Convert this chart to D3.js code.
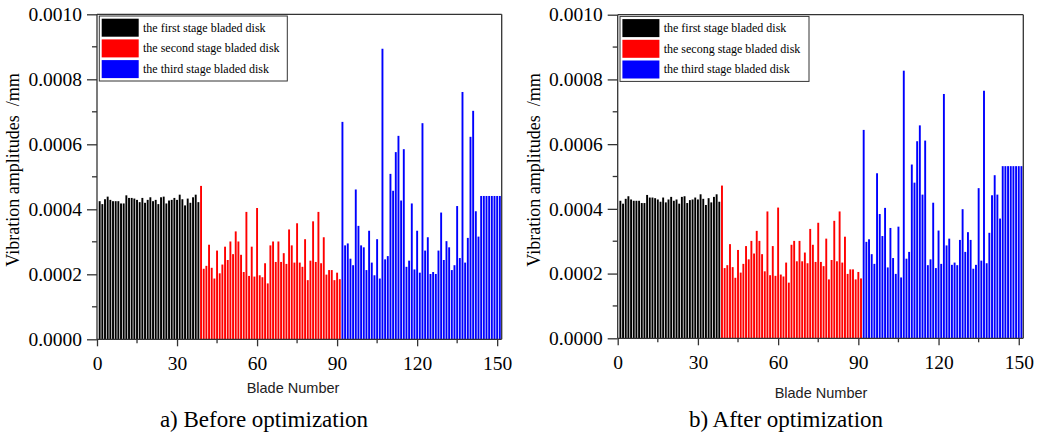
<!DOCTYPE html>
<html>
<head>
<meta charset="utf-8">
<script src="https://cdn.jsdelivr.net/npm/d3@7"></script>
<style>
  body { margin: 0; background: #fff; }
  svg { display: block; }
</style>
</head>
<body>
<svg id="chart" width="1042" height="434"></svg>
<script>
// Vibration amplitude (mm) per blade, blades numbered consecutively across stages
const firstStage = [
  0.000425, 0.000416, 0.000431, 0.000439, 0.000429, 0.000425, 0.000425, 0.000425, 0.000418, 0.000418,
  0.000443, 0.000435, 0.000435, 0.000433, 0.000429, 0.000422, 0.000435, 0.000420, 0.000429, 0.000437,
  0.000425, 0.000429, 0.000416, 0.000437, 0.000439, 0.000418, 0.000427, 0.000429, 0.000435, 0.000429,
  0.000445, 0.000431, 0.000412, 0.000433, 0.000420, 0.000437, 0.000445, 0.000422
];
const secondStage = [
  0.000472, 0.000217, 0.000226, 0.000291, 0.000220, 0.000187, 0.000273, 0.000203, 0.000230, 0.000285,
  0.000244, 0.000301, 0.000262, 0.000332, 0.000301, 0.000260, 0.000207, 0.000392, 0.000195, 0.000285,
  0.000193, 0.000404, 0.000197, 0.000191, 0.000234, 0.000172, 0.000289, 0.000301, 0.000238, 0.000301,
  0.000238, 0.000265, 0.000232, 0.000338, 0.000289, 0.000236, 0.000357, 0.000236, 0.000223, 0.000308,
  0.000182, 0.000242, 0.000363, 0.000238, 0.000392, 0.000234, 0.000314, 0.000199, 0.000213, 0.000213,
  0.000182, 0.000205, 0.000185
];
const thirdStageBefore = [
  0.000669, 0.000289, 0.000295, 0.000248, 0.000228, 0.000461, 0.000349, 0.000289, 0.000283, 0.000213,
  0.000334, 0.000236, 0.000197, 0.000308, 0.000187, 0.000894, 0.000246, 0.000256, 0.000509, 0.000457,
  0.000576, 0.000626, 0.000427, 0.000585, 0.000223, 0.000242, 0.000418, 0.000215, 0.000334, 0.000205,
  0.000665, 0.000273, 0.000314, 0.000201, 0.000207, 0.000201, 0.000273, 0.000390, 0.000244, 0.000302,
  0.000283, 0.000213, 0.000228, 0.000410, 0.000250, 0.000761, 0.000236, 0.000312, 0.000623, 0.000703,
  0.000394, 0.000316, 0.000441, 0.000441, 0.000441, 0.000441, 0.000441, 0.000441, 0.000441, 0.000441
];
const thirdStageAfter = [
  0.000644, 0.000298, 0.000306, 0.000260, 0.000230, 0.000510, 0.000384, 0.000316, 0.000403, 0.000219,
  0.000341, 0.000248, 0.000199, 0.000345, 0.000188, 0.000827, 0.000246, 0.000267, 0.000537, 0.000481,
  0.000609, 0.000658, 0.000444, 0.000611, 0.000226, 0.000244, 0.000419, 0.000217, 0.000333, 0.000230,
  0.000755, 0.000287, 0.000308, 0.000227, 0.000234, 0.000226, 0.000304, 0.000399, 0.000267, 0.000328,
  0.000304, 0.000215, 0.000227, 0.000464, 0.000240, 0.000765, 0.000232, 0.000326, 0.000442, 0.000504,
  0.000444, 0.000370, 0.000532, 0.000532, 0.000532, 0.000532, 0.000532, 0.000532, 0.000532, 0.000532
];

const xMajorTicks = [0, 30, 60, 90, 120, 150];
const xMinorTicks = [15, 45, 75, 105, 135];
const yMajorTicks = [0, 0.0002, 0.0004, 0.0006, 0.0008, 0.0010];
const yMinorTicks = [0.0001, 0.0003, 0.0005, 0.0007, 0.0009];
const stageColors = ["#000000", "#ff0000", "#0000ff"];
const legendBefore = ["the first stage bladed disk", "the second stage bladed disk", "the third stage bladed disk"];
const legendAfter = ["the first stage bladed disk", "the secong stage bladed disk", "the third stage bladed disk"];
const xTitle = "Blade Number";
const yTitle = "Vibration amplitudes  /mm";
const captions = ["a) Before optimization", "b) After optimization"];

const SERIF = "'Liberation Serif', 'Times New Roman', serif";
const SANS = "'Liberation Sans', Arial, sans-serif";
const AXIS = "#333";

const svg = d3.select("#chart");

// Blade numbers run 1..151, stage after stage
function stageBars(stages) {
  const bars = [];
  let blade = 1;
  stages.forEach((vals, s) => {
    vals.forEach(v => { bars.push({ blade: blade, value: v, stage: s }); blade += 1; });
  });
  return bars;
}

function panel(cfg) {
  const g = svg.append("g");
  const x = d3.scaleLinear().domain([0, 151.7]).range([cfg.left, cfg.right]);
  const y = d3.scaleLinear().domain([0, 0.0010]).range([cfg.bottom, cfg.top]);
  const barW = 1.9;

  const bars = stageBars([firstStage, secondStage, cfg.third]);
  g.append("g").selectAll("rect").data(bars).join("rect")
    .attr("x", d => x(d.blade) - barW / 2)
    .attr("width", barW)
    .attr("y", d => y(d.value))
    .attr("height", d => y(0) - y(d.value))
    .attr("fill", d => stageColors[d.stage]);

  // Frame: top and right edges
  g.append("line").attr("x1", cfg.left).attr("x2", cfg.right).attr("y1", cfg.top).attr("y2", cfg.top)
    .attr("stroke", AXIS).attr("stroke-width", 1.3);
  g.append("line").attr("x1", cfg.right).attr("x2", cfg.right).attr("y1", cfg.top).attr("y2", cfg.bottom)
    .attr("stroke", AXIS).attr("stroke-width", 1.3);

  // Left axis with major and minor ticks
  const yAxis = d3.axisLeft(y).tickValues(yMajorTicks).tickFormat(d3.format(".4f")).tickSize(10).tickPadding(5);
  const ya = g.append("g").attr("transform", `translate(${cfg.left},0)`).call(yAxis);
  ya.append("g").selectAll("line").data(yMinorTicks).join("line")
    .attr("x1", -5).attr("x2", 0).attr("y1", d => y(d)).attr("y2", d => y(d));

  // Bottom axis with major and minor ticks
  const xAxis = d3.axisBottom(x).tickValues(xMajorTicks).tickFormat(d3.format("d")).tickSize(7).tickPadding(10);
  const xa = g.append("g").attr("transform", `translate(0,${cfg.bottom})`).call(xAxis);
  xa.append("g").selectAll("line").data(xMinorTicks).join("line")
    .attr("x1", d => x(d)).attr("x2", d => x(d)).attr("y1", 0).attr("y2", 4);

  [ya, xa].forEach(a => {
    a.attr("font-family", SERIF);
    a.selectAll(".domain").attr("stroke", AXIS).attr("stroke-width", 1.3);
    a.selectAll("line").attr("stroke", AXIS).attr("stroke-width", 1.3);
    a.selectAll("text").attr("font-family", SERIF).attr("font-size", 19.5).attr("fill", "#000");
  });
  xa.select(".domain").attr("d", `M${cfg.left},0H${cfg.right}`);
  ya.select(".domain").attr("d", `M0,${cfg.bottom}V${cfg.top}`);

  // Axis titles
  g.append("text")
    .attr("transform", `translate(${cfg.left - 78},${cfg.yTitleMid}) rotate(-90)`)
    .attr("text-anchor", "middle").attr("font-family", SERIF).attr("font-size", 18)
    .style("white-space", "pre").text(yTitle);
  g.append("text")
    .attr("x", cfg.xTitleX).attr("y", cfg.xTitleY)
    .attr("text-anchor", "middle").attr("font-family", SANS).attr("font-size", 14.5)
    .attr("fill", "#222").text(xTitle);

  // Legend
  const lg = g.append("g").attr("transform", `translate(${cfg.left + 2.3},${cfg.top + 1.7})`);
  lg.append("rect").attr("width", cfg.legendW).attr("height", 65)
    .attr("fill", "#fff").attr("stroke", AXIS).attr("stroke-width", 1);
  cfg.legend.forEach((label, i) => {
    lg.append("rect").attr("x", 2.4).attr("y", 2.7 + i * 20.7).attr("width", 37).attr("height", 18)
      .attr("fill", stageColors[i]);
    lg.append("text").attr("x", 43.7).attr("y", 2.7 + i * 20.7 + 13)
      .attr("font-family", SERIF).attr("font-size", 12).attr("fill", "#000").text(label);
  });

  // Caption
  svg.append("text").attr("x", cfg.captionX).attr("y", 427)
    .attr("text-anchor", "middle").attr("font-family", SERIF).attr("font-size", 23)
    .text(cfg.caption);
}

panel({ left: 97, right: 501.7, top: 14.3, bottom: 339.3, third: thirdStageBefore,
        legend: legendBefore, legendW: 188, caption: captions[0], captionX: 264,
        yTitleMid: 170, xTitleX: 293, xTitleY: 393 });
panel({ left: 617.7, right: 1023.3, top: 14.7, bottom: 338.3, third: thirdStageAfter,
        legend: legendAfter, legendW: 189, caption: captions[1], captionX: 786,
        yTitleMid: 170, xTitleX: 821, xTitleY: 398 });
</script>
</body>
</html>
